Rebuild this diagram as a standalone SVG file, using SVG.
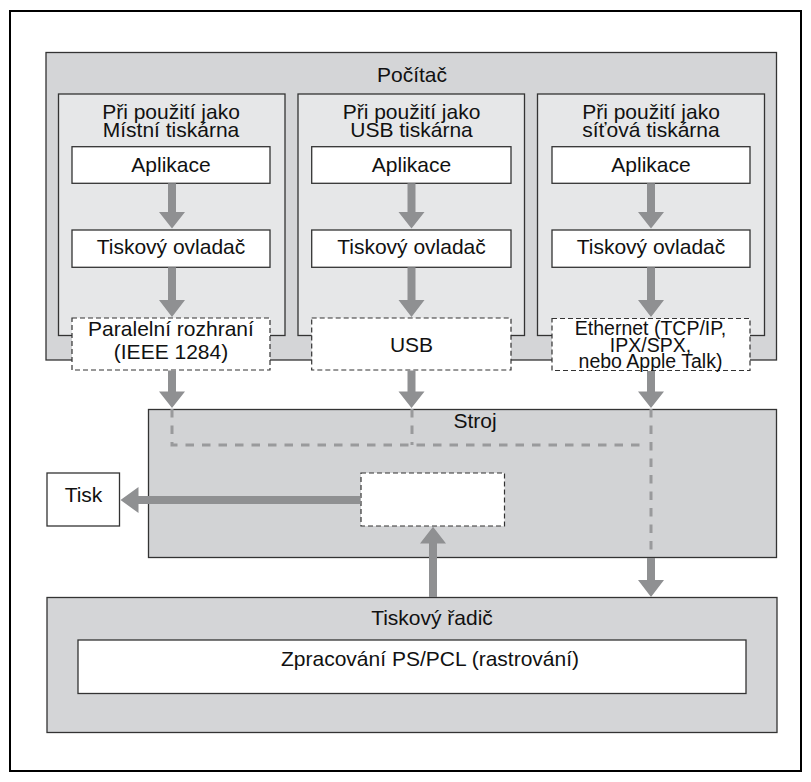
<svg xmlns="http://www.w3.org/2000/svg" width="811" height="782" viewBox="0 0 811 782">
<style>
text{font-family:"Liberation Sans",Arial,sans-serif;font-size:21px;fill:#111;text-anchor:middle}
.sm{font-size:19.5px}
.box{fill:#fff;stroke:#333;stroke-width:1.3}
.dbox{fill:#fff;stroke:#333;stroke-width:1.2;stroke-dasharray:5 3}
.grp{fill:#d4d5d7;stroke:#333;stroke-width:1.3}
.col{fill:#e6e7e8;stroke:#333;stroke-width:1.3}
.arr{fill:#8f9092;stroke:none}
.gd{fill:none;stroke:#999a9c;stroke-width:3;stroke-dasharray:8.5 8}
</style>
<rect x="10" y="11" width="791" height="760" fill="#fff" stroke="#000" stroke-width="2"/>

<g id="pocitac">
<rect class="grp" x="46" y="52.5" width="730.5" height="307.5"/>
<text x="412" y="81.5">Počítač</text>
</g>

<g id="col1">
<rect class="col" x="58.5" y="94" width="226.5" height="241.5"/>
<text x="171" y="118.5">Při použití jako</text>
<text x="171" y="136.7">Místní tiskárna</text>
</g>
<g id="col2">
<rect class="col" x="298" y="94" width="226.5" height="241.5"/>
<text x="411.5" y="118.5">Při použití jako</text>
<text x="411.5" y="136.7">USB tiskárna</text>
</g>
<g id="col3">
<rect class="col" x="537.5" y="94" width="227" height="241.5"/>
<text x="651" y="118.5">Při použití jako</text>
<text x="651" y="136.7">síťová tiskárna</text>
</g>

<g id="app1"><rect class="box" x="72" y="146.7" width="198" height="36.6"/><text x="171" y="171.7">Aplikace</text></g>
<g id="app2"><rect class="box" x="311.7" y="146.7" width="199.3" height="36.6"/><text x="411.5" y="171.7">Aplikace</text></g>
<g id="app3"><rect class="box" x="552" y="146.7" width="198" height="36.6"/><text x="651" y="171.7">Aplikace</text></g>

<g id="drv1"><rect class="box" x="72" y="230" width="198" height="37.3"/><text x="171" y="254">Tiskový ovladač</text></g>
<g id="drv2"><rect class="box" x="311.7" y="230" width="199.3" height="37.3"/><text x="411.5" y="254">Tiskový ovladač</text></g>
<g id="drv3"><rect class="box" x="552" y="230" width="198" height="37.3"/><text x="651" y="254">Tiskový ovladač</text></g>

<g id="if1"><rect class="dbox" x="72" y="318" width="198" height="52"/><text x="171" y="335.5">Paralelní rozhraní</text><text x="171" y="358.5">(IEEE 1284)</text></g>
<g id="if2"><rect class="dbox" x="311.7" y="318" width="199.3" height="52"/><text x="411.5" y="351.5">USB</text></g>

<g id="stroj">
<rect class="grp" x="148.5" y="409.5" width="628" height="148" style="fill:#d2d3d5"/>
<text x="475" y="427.5">Stroj</text>
</g>

<g id="radic">
<rect class="grp" x="47" y="597.5" width="730" height="135"/>
<text x="432" y="624.5">Tiskový řadič</text>
</g>
<g id="raster">
<rect class="box" x="78" y="640" width="668" height="53.5"/>
<text x="430" y="665.5">Zpracování PS/PCL (rastrování)</text>
</g>

<g id="engine"><rect class="dbox" x="361" y="473" width="143.5" height="53"/></g>
<g id="tisk"><rect class="box" x="47" y="473" width="72.5" height="53"/><text x="83.5" y="502">Tisk</text></g>

<g id="connectors">
<path class="gd" d="M172 409V445H647M412 409V445M651 409V553"/>
<g id="if3"><rect class="dbox" x="552" y="318.5" width="198" height="52"/><text class="sm" x="650.5" y="334.5">Ethernet (TCP/IP,</text><text class="sm" x="650.5" y="351.7">IPX/SPX,</text><text class="sm" x="650.5" y="367.5">nebo Apple Talk)</text></g>
<!-- column arrows: app -> driver -->
<path class="arr" d="M168 183.3h8V212h9l-13 16.5L159 212h9z"/>
<path class="arr" d="M407.5 183.3h8V212h9l-13 16.5L398.5 212h9z"/>
<path class="arr" d="M647 183.3h8V212h9l-13 16.5L638 212h9z"/>
<!-- driver -> interface -->
<path class="arr" d="M168 267.3h8V300h9l-13 17L159 300h9z"/>
<path class="arr" d="M407.5 267.3h8V300h9l-13 17L398.5 300h9z"/>
<path class="arr" d="M647 267.3h8V300h9l-13 17L638 300h9z"/>
<!-- interface -> machine -->
<path class="arr" d="M168 370.6h8V391.5h9l-13 16.5L159 391.5h9z"/>
<path class="arr" d="M407.5 370.6h8V391.5h9l-13 16.5L398.5 391.5h9z"/>
<path class="arr" d="M647 371h8V391.5h9l-13 16.5L638 391.5h9z"/>
<!-- machine -> controller -->
<path class="arr" d="M647 558h8V580h9l-13 17L638 580h9z"/>
<!-- controller -> engine -->
<path class="arr" d="M429 597V543.5h-9l13-16.8 13 16.8h-9V597z"/>
<!-- engine -> tisk -->
<path class="arr" d="M360.5 496V504H138.5v9L120.5 500l18-13v9z"/>
</g>
</svg>
